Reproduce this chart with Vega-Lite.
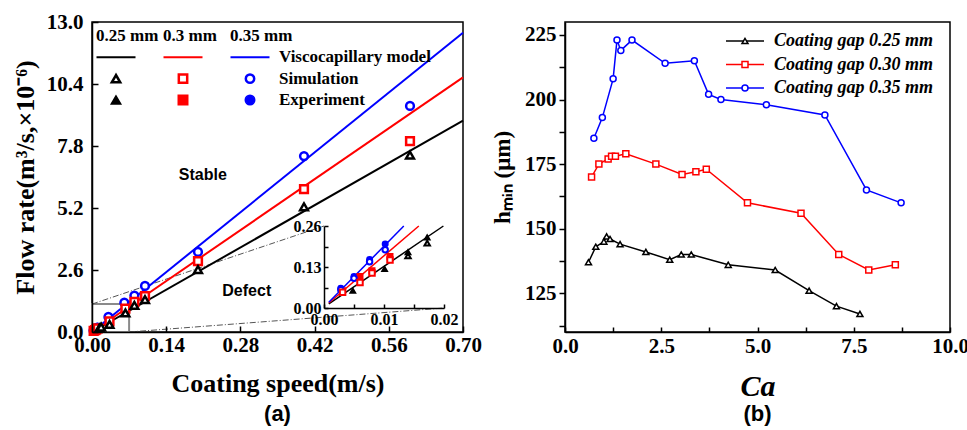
{
  "$schema": "https://vega.github.io/schema/vega-lite/v6.json",
  "background": "white",
  "padding": {"left": 11, "top": 10, "right": 5, "bottom": 0},
  "bounds": "flush",
  "spacing": 102,
  "datasets": {
    "models": [
      {"gap": "0.25 mm", "speed": 0, "flow": 0}, {"gap": "0.25 mm", "speed": 0.7, "flow": 8.86},
      {"gap": "0.3 mm", "speed": 0, "flow": 0}, {"gap": "0.3 mm", "speed": 0.7, "flow": 10.68},
      {"gap": "0.35 mm", "speed": 0, "flow": 0}, {"gap": "0.35 mm", "speed": 0.7, "flow": 12.55}
    ],
    "inset_models": [
      {"gap": "0.25 mm", "speed": 0.0008, "flow": 0.013}, {"gap": "0.25 mm", "speed": 0.0199, "flow": 0.26},
      {"gap": "0.3 mm", "speed": 0.0008, "flow": 0.016}, {"gap": "0.3 mm", "speed": 0.0158, "flow": 0.26},
      {"gap": "0.35 mm", "speed": 0.0008, "flow": 0.018}, {"gap": "0.35 mm", "speed": 0.0133, "flow": 0.26}
    ],
    "points": [
      {"gap": "0.35 mm", "kind": "Simulation", "speed": 0.0028, "flow": 0.058},
      {"gap": "0.35 mm", "kind": "Simulation", "speed": 0.005, "flow": 0.094},
      {"gap": "0.35 mm", "kind": "Simulation", "speed": 0.0076, "flow": 0.147},
      {"gap": "0.35 mm", "kind": "Simulation", "speed": 0.0102, "flow": 0.185},
      {"gap": "0.35 mm", "kind": "Simulation", "speed": 0.031, "flow": 0.63},
      {"gap": "0.35 mm", "kind": "Simulation", "speed": 0.061, "flow": 1.23},
      {"gap": "0.35 mm", "kind": "Simulation", "speed": 0.08, "flow": 1.53},
      {"gap": "0.35 mm", "kind": "Simulation", "speed": 0.1, "flow": 1.93},
      {"gap": "0.35 mm", "kind": "Simulation", "speed": 0.2, "flow": 3.36},
      {"gap": "0.35 mm", "kind": "Simulation", "speed": 0.4, "flow": 7.38},
      {"gap": "0.35 mm", "kind": "Simulation", "speed": 0.6, "flow": 9.48},
      {"gap": "0.3 mm", "kind": "Simulation", "speed": 0.0031, "flow": 0.05},
      {"gap": "0.3 mm", "kind": "Simulation", "speed": 0.006, "flow": 0.081},
      {"gap": "0.3 mm", "kind": "Simulation", "speed": 0.008, "flow": 0.111},
      {"gap": "0.3 mm", "kind": "Simulation", "speed": 0.011, "flow": 0.152},
      {"gap": "0.3 mm", "kind": "Simulation", "speed": 0.033, "flow": 0.45},
      {"gap": "0.3 mm", "kind": "Simulation", "speed": 0.063, "flow": 0.98},
      {"gap": "0.3 mm", "kind": "Simulation", "speed": 0.08, "flow": 1.26},
      {"gap": "0.3 mm", "kind": "Simulation", "speed": 0.1, "flow": 1.5},
      {"gap": "0.3 mm", "kind": "Simulation", "speed": 0.2, "flow": 2.97},
      {"gap": "0.3 mm", "kind": "Simulation", "speed": 0.4, "flow": 5.99},
      {"gap": "0.3 mm", "kind": "Simulation", "speed": 0.6, "flow": 8.0},
      {"gap": "0.25 mm", "kind": "Simulation", "speed": 0.014, "flow": 0.165},
      {"gap": "0.25 mm", "kind": "Simulation", "speed": 0.0172, "flow": 0.206},
      {"gap": "0.25 mm", "kind": "Simulation", "speed": 0.033, "flow": 0.32},
      {"gap": "0.25 mm", "kind": "Simulation", "speed": 0.063, "flow": 0.8},
      {"gap": "0.25 mm", "kind": "Simulation", "speed": 0.08, "flow": 1.12},
      {"gap": "0.25 mm", "kind": "Simulation", "speed": 0.1, "flow": 1.36},
      {"gap": "0.25 mm", "kind": "Simulation", "speed": 0.2, "flow": 2.62},
      {"gap": "0.25 mm", "kind": "Simulation", "speed": 0.4, "flow": 5.25},
      {"gap": "0.25 mm", "kind": "Simulation", "speed": 0.6, "flow": 7.42},
      {"gap": "0.35 mm", "kind": "Experiment", "speed": 0.0028, "flow": 0.063},
      {"gap": "0.35 mm", "kind": "Experiment", "speed": 0.005, "flow": 0.1},
      {"gap": "0.35 mm", "kind": "Experiment", "speed": 0.0076, "flow": 0.154},
      {"gap": "0.35 mm", "kind": "Experiment", "speed": 0.0102, "flow": 0.203},
      {"gap": "0.3 mm", "kind": "Experiment", "speed": 0.0031, "flow": 0.055},
      {"gap": "0.3 mm", "kind": "Experiment", "speed": 0.006, "flow": 0.1},
      {"gap": "0.3 mm", "kind": "Experiment", "speed": 0.008, "flow": 0.118},
      {"gap": "0.3 mm", "kind": "Experiment", "speed": 0.011, "flow": 0.163},
      {"gap": "0.25 mm", "kind": "Experiment", "speed": 0.0048, "flow": 0.055},
      {"gap": "0.25 mm", "kind": "Experiment", "speed": 0.0101, "flow": 0.124},
      {"gap": "0.25 mm", "kind": "Experiment", "speed": 0.014, "flow": 0.177},
      {"gap": "0.25 mm", "kind": "Experiment", "speed": 0.0172, "flow": 0.224}
    ],
    "zoom_box": [{"speed": 0, "speed2": 0.07, "flow": 0, "flow2": 1.17}],
    "zoom_lines": [
      {"speed": 0, "flow": 1.17, "speed2": 0.4377, "flow2": 4.445},
      {"speed": 0.07, "flow": 0, "speed2": 0.664, "flow2": 1.006}
    ],
    "notes": [
      {"speed": 0.209, "flow": 6.58, "label": "Stable"},
      {"speed": 0.292, "flow": 1.72, "label": "Defect"}
    ],
    "legend_cols": [{"gap": "0.25 mm"}, {"gap": "0.3 mm"}, {"gap": "0.35 mm"}],
    "legend_rows": [
      {"kind": "model", "label": "Viscocapillary model"},
      {"kind": "Simulation", "label": "Simulation"},
      {"kind": "Experiment", "label": "Experiment"}
    ],
    "hmin": [
      {"series": "0.25 mm", "Ca": 0.61, "h": 137}, {"series": "0.25 mm", "Ca": 0.8, "h": 143},
      {"series": "0.25 mm", "Ca": 1.01, "h": 145}, {"series": "0.25 mm", "Ca": 1.08, "h": 147},
      {"series": "0.25 mm", "Ca": 1.17, "h": 146}, {"series": "0.25 mm", "Ca": 1.43, "h": 144},
      {"series": "0.25 mm", "Ca": 2.1, "h": 141}, {"series": "0.25 mm", "Ca": 2.72, "h": 138},
      {"series": "0.25 mm", "Ca": 3.02, "h": 140}, {"series": "0.25 mm", "Ca": 3.28, "h": 140},
      {"series": "0.25 mm", "Ca": 4.24, "h": 136}, {"series": "0.25 mm", "Ca": 5.46, "h": 134},
      {"series": "0.25 mm", "Ca": 6.34, "h": 126}, {"series": "0.25 mm", "Ca": 7.05, "h": 120},
      {"series": "0.25 mm", "Ca": 7.66, "h": 117},
      {"series": "0.30 mm", "Ca": 0.69, "h": 170}, {"series": "0.30 mm", "Ca": 0.88, "h": 175},
      {"series": "0.30 mm", "Ca": 1.12, "h": 177}, {"series": "0.30 mm", "Ca": 1.21, "h": 178},
      {"series": "0.30 mm", "Ca": 1.31, "h": 178}, {"series": "0.30 mm", "Ca": 1.58, "h": 179},
      {"series": "0.30 mm", "Ca": 2.36, "h": 175}, {"series": "0.30 mm", "Ca": 3.04, "h": 171},
      {"series": "0.30 mm", "Ca": 3.4, "h": 172}, {"series": "0.30 mm", "Ca": 3.67, "h": 173},
      {"series": "0.30 mm", "Ca": 4.74, "h": 160}, {"series": "0.30 mm", "Ca": 6.13, "h": 156},
      {"series": "0.30 mm", "Ca": 7.11, "h": 140}, {"series": "0.30 mm", "Ca": 7.89, "h": 134},
      {"series": "0.30 mm", "Ca": 8.58, "h": 136},
      {"series": "0.35 mm", "Ca": 0.75, "h": 185}, {"series": "0.35 mm", "Ca": 0.97, "h": 193},
      {"series": "0.35 mm", "Ca": 1.25, "h": 208}, {"series": "0.35 mm", "Ca": 1.35, "h": 223},
      {"series": "0.35 mm", "Ca": 1.45, "h": 219}, {"series": "0.35 mm", "Ca": 1.74, "h": 223},
      {"series": "0.35 mm", "Ca": 2.6, "h": 214}, {"series": "0.35 mm", "Ca": 3.36, "h": 215},
      {"series": "0.35 mm", "Ca": 3.73, "h": 202}, {"series": "0.35 mm", "Ca": 4.05, "h": 200},
      {"series": "0.35 mm", "Ca": 5.23, "h": 198}, {"series": "0.35 mm", "Ca": 6.75, "h": 194},
      {"series": "0.35 mm", "Ca": 7.83, "h": 165}, {"series": "0.35 mm", "Ca": 8.73, "h": 160}
    ],
    "legendR": [
      {"series": "0.25 mm", "label": "Coating gap 0.25 mm"},
      {"series": "0.30 mm", "label": "Coating gap 0.30 mm"},
      {"series": "0.35 mm", "label": "Coating gap 0.35 mm"}
    ]
  },
  "hconcat": [
    {
      "width": 371,
      "height": 310,
      "title": {"text": "(a)", "orient": "bottom", "font": "Liberation Sans", "fontSize": 22, "fontWeight": "bold", "color": "black", "offset": 8},
      "layer": [
        {
          "layer": [
            {
              "data": {"name": "zoom_box"},
              "mark": {"type": "rect", "fill": null, "stroke": "#8a8a8a", "strokeWidth": 2},
              "encoding": {
                "x": {"field": "speed", "type": "quantitative", "scale": {"domain": [0, 0.7], "nice": false, "zero": false},
                  "axis": {"title": "Coating speed(m/s)", "values": [0, 0.07, 0.14, 0.21, 0.28, 0.35, 0.42, 0.49, 0.56, 0.63, 0.7], "format": ".2f",
                    "labelExpr": "round(datum.value*100) % 14 == 0 ? datum.label : ''", "tickSize": -6, "labelPadding": 8, "titlePadding": 15, "zindex": 1}},
                "x2": {"field": "speed2"},
                "y": {"field": "flow", "type": "quantitative", "scale": {"domain": [0, 13], "nice": false},
                  "axis": {"title": "Flow rate(m³/s,×10⁻⁶)", "values": [0, 1.3, 2.6, 3.9, 5.2, 6.5, 7.8, 9.1, 10.4, 11.7, 13], "format": ".1f",
                    "labelExpr": "round(datum.value*10) % 26 == 0 ? datum.label : ''", "tickSize": -6, "labelPadding": 15, "titlePadding": 8, "zindex": 1}},
                "y2": {"field": "flow2"}
              }
            },
            {
              "data": {"name": "zoom_lines"},
              "mark": {"type": "rule", "stroke": "#555555", "strokeWidth": 1, "strokeDash": [6, 2, 1, 2]},
              "encoding": {
                "x": {"field": "speed", "type": "quantitative"}, "x2": {"field": "speed2"},
                "y": {"field": "flow", "type": "quantitative"}, "y2": {"field": "flow2"}
              }
            },
            {
              "data": {"name": "models"},
              "mark": {"type": "line", "strokeWidth": 2},
              "encoding": {
                "x": {"field": "speed", "type": "quantitative"},
                "y": {"field": "flow", "type": "quantitative"},
                "stroke": {"field": "gap", "type": "nominal", "scale": {"domain": ["0.25 mm", "0.3 mm", "0.35 mm"], "range": ["#000000", "#ff0000", "#0000ff"]}, "legend": null}
              }
            },
            {
              "data": {"name": "points"},
              "transform": [{"filter": "datum.kind == 'Experiment'"}],
              "mark": {"type": "point", "filled": true, "strokeWidth": 1.5, "size": 50, "opacity": 1},
              "encoding": {
                "x": {"field": "speed", "type": "quantitative"},
                "y": {"field": "flow", "type": "quantitative"},
                "stroke": {"field": "gap", "type": "nominal", "legend": null},
                "fill": {"field": "gap", "type": "nominal", "scale": {"domain": ["0.25 mm", "0.3 mm", "0.35 mm"], "range": ["#000000", "#ff0000", "#0000ff"]}, "legend": null},
                "shape": {"field": "gap", "type": "nominal", "scale": {"domain": ["0.25 mm", "0.3 mm", "0.35 mm"], "range": ["triangle-up", "square", "circle"]}, "legend": null}
              }
            },
            {
              "data": {"name": "points"},
              "transform": [{"filter": "datum.kind == 'Simulation'"}],
              "mark": {"type": "point", "filled": true, "strokeWidth": 2.5, "size": 60, "opacity": 1},
              "encoding": {
                "x": {"field": "speed", "type": "quantitative"},
                "y": {"field": "flow", "type": "quantitative"},
                "stroke": {"field": "gap", "type": "nominal", "legend": null},
                "fill": {"value": "white"},
                "shape": {"field": "gap", "type": "nominal", "legend": null}
              }
            },
            {
              "data": {"name": "notes"},
              "mark": {"type": "text", "font": "Liberation Sans", "fontWeight": "bold", "fontSize": 16, "color": "black"},
              "encoding": {
                "x": {"field": "speed", "type": "quantitative"},
                "y": {"field": "flow", "type": "quantitative"},
                "text": {"field": "label"}
              }
            }
          ]
        },
        {
          "layer": [
            {
              "mark": {"type": "rect", "fill": "white", "stroke": "black", "strokeWidth": 1.5},
              "encoding": {
                "x": {"datum": 0, "type": "quantitative", "scale": {"domain": [0, 0.02], "range": [232, 352], "nice": false, "zero": false},
                  "axis": {"orient": "bottom", "offset": -24, "title": null, "values": [0, 0.005, 0.01, 0.015, 0.02], "format": ".2f",
                    "labelExpr": "round(datum.value*1000) % 10 == 0 ? datum.label : ''", "tickSize": -4, "labelPadding": 7, "labelFontSize": 16, "zindex": 1}},
                "x2": {"datum": 0.02},
                "y": {"datum": 0, "type": "quantitative", "scale": {"domain": [0, 0.26], "range": [286, 204], "nice": false, "zero": false},
                  "axis": {"orient": "left", "offset": -232, "title": null, "values": [0, 0.065, 0.13, 0.195, 0.26], "format": ".2f",
                    "labelExpr": "round(datum.value*1000) % 130 == 0 ? datum.label : ''", "tickSize": -4, "labelPadding": 7, "labelFontSize": 16, "zindex": 1}},
                "y2": {"datum": 0.26}
              }
            },
            {
              "data": {"name": "inset_models"},
              "mark": {"type": "line", "strokeWidth": 1.5},
              "encoding": {
                "x": {"field": "speed", "type": "quantitative"},
                "y": {"field": "flow", "type": "quantitative"},
                "stroke": {"field": "gap", "type": "nominal", "legend": null}
              }
            },
            {
              "data": {"name": "points"},
              "transform": [{"filter": "datum.kind == 'Experiment' && datum.speed <= 0.02"}],
              "mark": {"type": "point", "filled": true, "strokeWidth": 1.5, "size": 30, "opacity": 1},
              "encoding": {
                "x": {"field": "speed", "type": "quantitative"},
                "y": {"field": "flow", "type": "quantitative"},
                "stroke": {"field": "gap", "type": "nominal", "legend": null},
                "fill": {"field": "gap", "type": "nominal", "legend": null},
                "shape": {"field": "gap", "type": "nominal", "legend": null}
              }
            },
            {
              "data": {"name": "points"},
              "transform": [{"filter": "datum.kind == 'Simulation' && datum.speed <= 0.02"}],
              "mark": {"type": "point", "filled": true, "strokeWidth": 2, "size": 30, "opacity": 1},
              "encoding": {
                "x": {"field": "speed", "type": "quantitative"},
                "y": {"field": "flow", "type": "quantitative"},
                "stroke": {"field": "gap", "type": "nominal", "legend": null},
                "fill": {"value": "white"},
                "shape": {"field": "gap", "type": "nominal", "legend": null}
              }
            }
          ]
        },
        {
          "layer": [
            {
              "data": {"name": "legend_cols"},
              "mark": {"type": "text", "align": "left", "baseline": "middle", "dx": -20, "font": "Liberation Serif", "fontWeight": "bold", "fontSize": 17, "color": "black"},
              "encoding": {
                "x": {"field": "gap", "type": "nominal", "scale": {"type": "point", "domain": ["0.25 mm", "0.3 mm", "0.35 mm", "name"], "range": [24, 225], "padding": 0}, "axis": null},
                "y": {"datum": "header", "type": "nominal", "scale": {"type": "point", "domain": ["header", "model", "Simulation", "Experiment"], "range": [14, 78], "padding": 0}, "axis": null},
                "text": {"field": "gap"}
              }
            },
            {
              "data": {"name": "legend_cols"},
              "mark": {"type": "point", "shape": "stroke", "size": 1521, "strokeWidth": 2, "opacity": 1},
              "encoding": {
                "x": {"field": "gap", "type": "nominal", "axis": null},
                "y": {"datum": "model", "type": "nominal", "axis": null},
                "stroke": {"field": "gap", "type": "nominal", "legend": null}
              }
            },
            {
              "data": {"name": "legend_cols"},
              "mark": {"type": "point", "filled": true, "strokeWidth": 2.5, "size": 70, "opacity": 1},
              "encoding": {
                "x": {"field": "gap", "type": "nominal", "axis": null},
                "y": {"datum": "Simulation", "type": "nominal", "axis": null},
                "stroke": {"field": "gap", "type": "nominal", "legend": null},
                "fill": {"value": "white"},
                "shape": {"field": "gap", "type": "nominal", "legend": null}
              }
            },
            {
              "data": {"name": "legend_cols"},
              "mark": {"type": "point", "filled": true, "strokeWidth": 1.5, "size": 90, "opacity": 1},
              "encoding": {
                "x": {"field": "gap", "type": "nominal", "axis": null},
                "y": {"datum": "Experiment", "type": "nominal", "axis": null},
                "stroke": {"field": "gap", "type": "nominal", "legend": null},
                "fill": {"field": "gap", "type": "nominal", "legend": null},
                "shape": {"field": "gap", "type": "nominal", "legend": null}
              }
            },
            {
              "data": {"name": "legend_rows"},
              "mark": {"type": "text", "align": "left", "baseline": "middle", "dx": -38, "font": "Liberation Serif", "fontWeight": "bold", "fontSize": 17, "color": "black"},
              "encoding": {
                "x": {"datum": "name", "type": "nominal", "axis": null},
                "y": {"field": "kind", "type": "nominal", "axis": null},
                "text": {"field": "label"}
              }
            }
          ]
        }
      ],
      "resolve": {"scale": {"x": "independent", "y": "independent"}}
    },
    {
      "width": 385,
      "height": 310,
      "title": {"text": "(b)", "orient": "bottom", "font": "Liberation Sans", "fontSize": 22, "fontWeight": "bold", "color": "black", "offset": 3},
      "layer": [
        {
          "layer": [
            {
              "data": {"name": "hmin"},
              "mark": {"type": "line", "strokeWidth": 1.5},
              "encoding": {
                "x": {"field": "Ca", "type": "quantitative", "scale": {"domain": [0, 10], "nice": false},
                  "axis": {"title": "Ca", "titleFontStyle": "italic", "titleFontSize": 30, "values": [0, 1.25, 2.5, 3.75, 5, 6.25, 7.5, 8.75, 10], "format": ".1f",
                    "labelExpr": "round(datum.value*100) % 250 == 0 ? datum.label : ''", "tickSize": -5, "labelPadding": 8, "titlePadding": 15, "zindex": 1}},
                "y": {"field": "h", "type": "quantitative", "scale": {"domain": [110, 230], "nice": false, "zero": false},
                  "axis": {"orient": "left", "title": "hₘᵢₙ (μm)", "titleFontSize": 23, "values": [125, 150, 175, 200, 225], "format": "d",
                    "tickSize": 6, "labelPadding": 3, "titlePadding": 10, "zindex": 1}},
                "stroke": {"field": "series", "type": "nominal", "scale": {"domain": ["0.25 mm", "0.30 mm", "0.35 mm"], "range": ["#000000", "#ff0000", "#0000ff"]}, "legend": null}
              }
            },
            {
              "data": {"name": "hmin"},
              "mark": {"type": "point", "filled": true, "strokeWidth": 1.5, "size": 36, "opacity": 1},
              "encoding": {
                "x": {"field": "Ca", "type": "quantitative"},
                "y": {"field": "h", "type": "quantitative"},
                "stroke": {"field": "series", "type": "nominal", "legend": null},
                "fill": {"value": "white"},
                "shape": {"field": "series", "type": "nominal", "scale": {"domain": ["0.25 mm", "0.30 mm", "0.35 mm"], "range": ["triangle-up", "square", "circle"]}, "legend": null}
              }
            }
          ]
        },
        {
          "mark": {"type": "rule", "opacity": 0},
          "encoding": {
            "y": {"datum": 150, "type": "quantitative", "scale": {"domain": [110, 230], "nice": false, "zero": false},
              "axis": {"orient": "left", "title": null, "labels": false, "domain": false, "values": [112.5, 137.5, 162.5, 187.5, 212.5], "tickSize": 6, "zindex": 1}}
          }
        },
        {
          "layer": [
            {
              "data": {"name": "legendR"},
              "mark": {"type": "point", "shape": "stroke", "size": 1444, "strokeWidth": 1.5, "opacity": 1},
              "encoding": {
                "x": {"datum": "sym", "type": "nominal", "scale": {"type": "point", "domain": ["sym", "label"], "range": [180, 209], "padding": 0}, "axis": null},
                "y": {"field": "series", "type": "nominal", "scale": {"type": "point", "domain": ["0.25 mm", "0.30 mm", "0.35 mm"], "range": [19, 66], "padding": 0}, "axis": null},
                "stroke": {"field": "series", "type": "nominal", "legend": null}
              }
            },
            {
              "data": {"name": "legendR"},
              "mark": {"type": "point", "filled": true, "strokeWidth": 1.5, "size": 36, "opacity": 1},
              "encoding": {
                "x": {"datum": "sym", "type": "nominal", "axis": null},
                "y": {"field": "series", "type": "nominal", "axis": null},
                "stroke": {"field": "series", "type": "nominal", "legend": null},
                "fill": {"value": "white"},
                "shape": {"field": "series", "type": "nominal", "legend": null}
              }
            },
            {
              "data": {"name": "legendR"},
              "mark": {"type": "text", "align": "left", "baseline": "middle", "font": "Liberation Serif", "fontWeight": "bold", "fontStyle": "italic", "fontSize": 18, "color": "black"},
              "encoding": {
                "x": {"datum": "label", "type": "nominal", "axis": null},
                "y": {"field": "series", "type": "nominal", "axis": null},
                "text": {"field": "label"}
              }
            }
          ]
        }
      ],
      "resolve": {"scale": {"x": "independent", "y": "independent"}}
    }
  ],
  "resolve": {"scale": {"stroke": "independent", "fill": "independent", "shape": "independent"}},
  "config": {
    "view": {"stroke": "black", "strokeWidth": 1.5},
    "font": "Liberation Serif",
    "axis": {
      "labelFont": "Liberation Serif", "labelFontWeight": "bold", "labelFontSize": 21, "labelColor": "black",
      "titleFont": "Liberation Serif", "titleFontWeight": "bold", "titleFontSize": 26, "titleColor": "black",
      "domainColor": "black", "domainWidth": 1.5, "tickColor": "black", "tickWidth": 1.5,
      "grid": false, "labelFlush": false, "labelOverlap": false
    }
  }
}
